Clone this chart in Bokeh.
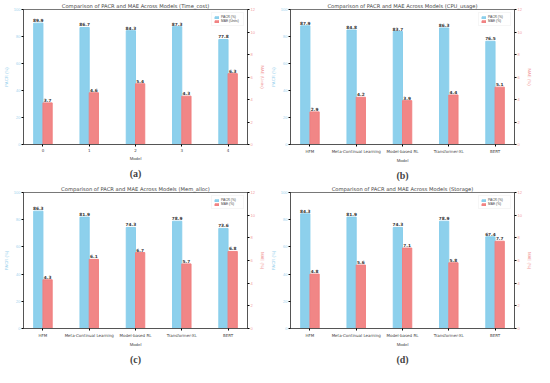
from bokeh.plotting import figure
from bokeh.models import (Range1d, LinearAxis, FixedTicker, Title, ColumnDataSource,
                          Legend, LegendItem)
from bokeh.layouts import column, row
from bokeh.embed import file_html
from bokeh.resources import INLINE
from bokeh.core.properties import value

# ---------------- data ----------------
cats_index = ["0", "1", "2", "3", "4"]
models = ["HFM", "Meta-Continual Learning", "Model-based RL", "Transformer-XL", "BERT"]

time_pacr = [89.9, 86.7, 84.3, 87.3, 77.8]
time_mae = [3.7, 4.6, 5.4, 4.3, 6.3]
cpu_pacr = [87.9, 84.8, 83.7, 86.3, 76.5]
cpu_mae = [2.9, 4.2, 3.9, 4.4, 5.1]
mem_pacr = [86.3, 81.9, 74.3, 78.9, 73.6]
mem_mae = [4.3, 6.1, 6.7, 5.7, 6.8]
sto_pacr = [84.3, 81.9, 74.3, 78.9, 67.4]
sto_mae = [4.8, 5.6, 7.1, 5.8, 7.7]

left_ticks = [0, 20, 40, 60, 80, 100]
right_ticks = [0, 2, 4, 6, 8, 10, 12]

BLUE = "#87CEEB"
RED = "#F08080"
FONT = value("DejaVu Sans")


def panel(title, labels, pacr, mae, mae_label, caption, w, h):
    p = figure(width=w, height=h, output_backend="svg", toolbar_location=None,
               x_range=Range1d(-0.42, 4.42), y_range=Range1d(0, 100),
               min_border_left=2, min_border_right=2, min_border_top=0,
               min_border_bottom=0)
    p.extra_y_ranges = {"mae": Range1d(0, 12)}
    p.xgrid.visible = False
    p.ygrid.visible = False
    p.outline_line_color = "#555555"
    p.outline_line_width = 0.8

    p.title.text = title
    p.title.text_font = "DejaVu Sans"
    p.title.text_font_size = "5.2px"
    p.title.text_font_style = "normal"
    p.title.align = "center"
    p.title.standoff = 1

    xs = list(range(len(labels)))
    src = ColumnDataSource(dict(
        xb=[x - 0.1 for x in xs], xr=[x + 0.1 for x in xs],
        pacr=pacr, mae=mae,
        pt=[f"{v:.1f}" for v in pacr], mt=[f"{v:.1f}" for v in mae]))

    rb = p.vbar(x="xb", top="pacr", width=0.2, source=src, color=BLUE, alpha=0.95)
    rr = p.vbar(x="xr", top="mae", width=0.2, source=src, color=RED, alpha=0.95,
                y_range_name="mae")
    p.text(x="xb", y="pacr", text="pt", source=src, text_align="center",
           text_baseline="bottom", y_offset=-1, text_font=FONT,
           text_font_size="4.3px", text_font_style="bold", text_color="#333333")
    p.text(x="xr", y="mae", text="mt", source=src, text_align="center",
           text_baseline="bottom", y_offset=-1, text_font=FONT,
           text_font_size="4.3px", text_font_style="bold", text_color="#333333",
           y_range_name="mae")

    # x axis
    xa = p.xaxis[0]
    xa.ticker = FixedTicker(ticks=xs)
    xa.major_label_overrides = {i: l for i, l in enumerate(labels)}
    xa.major_label_text_font_size = "4px"
    xa.major_label_text_font = "DejaVu Sans"
    xa.axis_label = "Model"
    xa.axis_label_text_font_size = "4.3px"
    xa.axis_label_text_font_style = "normal"
    xa.axis_label_standoff = 1
    xa.major_label_standoff = 2
    xa.major_tick_out = 2
    xa.major_tick_in = 0
    xa.minor_tick_out = 0
    xa.axis_line_color = "#555555"

    # left axis
    ya = p.yaxis[0]
    ya.ticker = FixedTicker(ticks=left_ticks)
    ya.major_label_text_font_size = "4px"
    ya.major_label_text_color = "#9ED3EE"
    ya.axis_label = "PACR (%)"
    ya.axis_label_text_font_size = "4.3px"
    ya.axis_label_text_color = "#9ED3EE"
    ya.axis_label_text_font_style = "normal"
    ya.axis_label_standoff = 2
    ya.major_label_standoff = 1
    ya.major_tick_out = 2
    ya.major_tick_in = 0
    ya.minor_tick_out = 0
    ya.axis_line_color = "#555555"

    # right axis
    ra = LinearAxis(y_range_name="mae", ticker=FixedTicker(ticks=right_ticks))
    ra.major_label_text_font_size = "4px"
    ra.major_label_text_color = "#F2A0A0"
    ra.axis_label = mae_label
    ra.axis_label_text_font_size = "4.3px"
    ra.axis_label_text_color = "#F2A0A0"
    ra.axis_label_text_font_style = "normal"
    ra.axis_label_standoff = 2
    ra.major_label_standoff = 1
    ra.major_tick_out = 2
    ra.major_tick_in = 0
    ra.minor_tick_out = 0
    ra.axis_line_color = "#555555"
    p.add_layout(ra, "right")

    leg = Legend(items=[LegendItem(label="PACR (%)", renderers=[rb]),
                        LegendItem(label=mae_label, renderers=[rr])],
                 location="top_right", label_text_font_size="3.3px",
                 glyph_width=5, glyph_height=3, label_height=3, label_standoff=2,
                 spacing=0, padding=2, margin=3, border_line_color="#eeeeee",
                 border_line_width=0.5, background_fill_alpha=0.8)
    p.add_layout(leg)

    cap = Title(text=caption, align="center", text_font="Liberation Serif",
                text_font_size="10px", text_font_style="bold",
                standoff=5)
    p.add_layout(cap, "below")
    return p


W = 267
pa = panel("Comparison of PACR and MAE Across Models (Time_cost)", cats_index,
           time_pacr, time_mae, "MAE (Units)", "(a)", W, 183)
pb = panel("Comparison of PACR and MAE Across Models (CPU_usage)", models,
           cpu_pacr, cpu_mae, "MAE (%)", "(b)", W, 183)
pc = panel("Comparison of PACR and MAE Across Models (Mem_alloc)", models,
           mem_pacr, mem_mae, "MAE (%)", "(c)", W, 184)
pd = panel("Comparison of PACR and MAE Across Models (Storage)", models,
           sto_pacr, sto_mae, "MAE (%)", "(d)", W, 184)

layout = column(row(pa, pb), row(pc, pd))
open("out.html", "w").write(file_html(layout, INLINE))
